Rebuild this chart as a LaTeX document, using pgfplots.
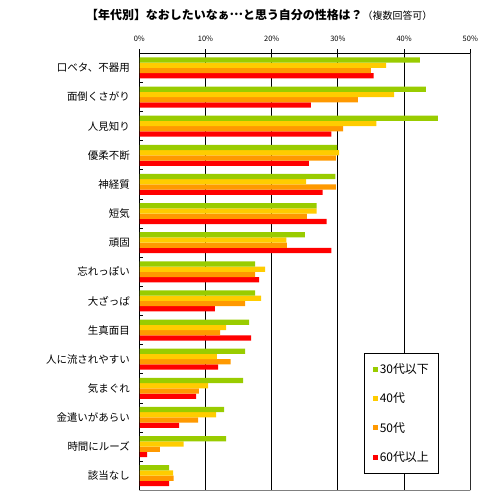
\documentclass[border=0pt]{standalone}
\usepackage{pgfplots}
\pgfplotsset{compat=1.18}
\usepackage{fontspec}
\setmainfont{Noto Sans CJK JP}
\definecolor{c30}{RGB}{153,204,0}
\definecolor{c40}{RGB}{255,204,0}
\definecolor{c50}{RGB}{255,153,0}
\definecolor{c60}{RGB}{255,0,0}
\begin{document}
\begin{tikzpicture}
\useasboundingbox (-139.3bp,-10.7bp) rectangle (360.7bp,490.3bp);
\begin{axis}[
    scale only axis,
    width=331bp, height=437bp,
    xbar=0pt, bar width=5.25bp,
    y dir=reverse,
    xmin=0, xmax=50, ymin=-0.5, ymax=14.5,
    xtick={0,10,20,30,40,50},
    xticklabels={0\%,10\%,20\%,30\%,40\%,50\%},
    xtick pos=right, xticklabel pos=right,
    xticklabel style={font=\fontsize{7.5}{9}\selectfont, yshift=8bp},
    ytick={0,...,14},
    yticklabels={口ベタ、不器用,面倒くさがり,人見知り,優柔不断,神経質,短気,頑固,忘れっぽい,大ざっぱ,生真面目,人に流されやすい,気まぐれ,金遣いがあらい,時間にルーズ,該当なし},
    yticklabel style={font=\fontsize{10.5}{12}\selectfont, xshift=-6bp},
    ytick pos=left,
    minor y tick num=1,
    tick align=inside,
    major tick length=4bp, minor tick length=4bp,
    major y tick style={draw=none},
    minor y tick style={black, line width=0.8bp},
    major x tick style={black, line width=0.8bp, yshift=4bp},
    xmajorgrids,
    major grid style={black, line width=0.8bp},
    axis line style={draw=none},
    legend style={at={(axis description cs:0.68,0.314)}, anchor=north west,
      draw=black, line width=0.8bp, fill=white,
      font=\fontsize{12}{14}\selectfont,
      row sep=14bp, inner xsep=8bp, inner ysep=8bp},
    legend cell align=left,
    reverse legend,
    legend image code/.code={\fill[#1] (0bp,-2.5bp) rectangle (5bp,2.5bp);},
]
% plotted last-to-first so that 30代以下 sits at the top of each group
\addplot[draw=none, fill=c60] coordinates {(35.4,0) (25.9,1) (29.0,2) (25.6,3) (27.7,4) (28.3,5) (29.0,6) (18.1,7) (11.4,8) (16.9,9) (11.9,10) (8.6,11) (6.0,12) (1.2,13) (4.5,14)};
\addplot[draw=none, fill=c50] coordinates {(35.0,0) (33.0,1) (30.8,2) (29.7,3) (29.7,4) (25.3,5) (22.3,6) (17.5,7) (16.0,8) (12.2,9) (13.8,10) (9.0,11) (8.9,12) (3.1,13) (5.2,14)};
\addplot[draw=none, fill=c40] coordinates {(37.3,0) (38.5,1) (35.8,2) (30.2,3) (25.2,4) (26.8,5) (22.2,6) (19.0,7) (18.4,8) (13.1,9) (11.7,10) (10.4,11) (11.6,12) (6.7,13) (5.1,14)};
\addplot[draw=none, fill=c30] coordinates {(42.4,0) (43.3,1) (45.1,2) (29.9,3) (29.6,4) (26.8,5) (25.0,6) (17.5,7) (17.5,8) (16.6,9) (16.0,10) (15.7,11) (12.8,12) (13.1,13) (4.5,14)};
\legend{60代以上,50代,40代,30代以下}
\draw[black, line width=0.8bp] (axis description cs:0,0) -- (axis description cs:0,1) -- (axis description cs:1,1);
\draw[gray, line width=0.8bp] (axis description cs:1,1) -- (axis description cs:1,0) -- (axis description cs:0,0);
\end{axis}
\node[font=\bfseries\fontsize{12}{14}\selectfont, inner sep=0pt] at (120bp,475.3bp)
  {【年代別】なおしたいなぁ\raisebox{0.3em}{…}と思う自分の性格は？{\mdseries\fontsize{10}{12}\selectfont （複数回答可）}};
\end{tikzpicture}
\end{document}
